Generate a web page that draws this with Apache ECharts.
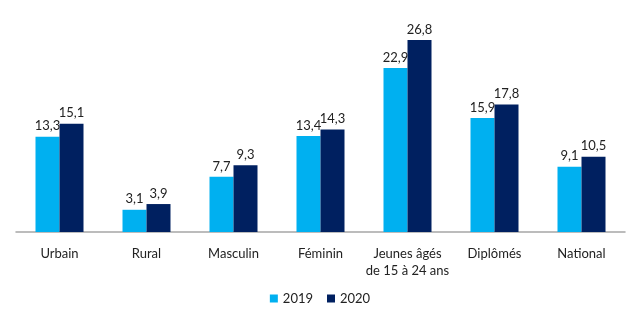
<!DOCTYPE html>
<html>
<head>
<meta charset="utf-8">
<style>
  html, body { margin: 0; padding: 0; background: #fff; }
  #chart { width: 640px; height: 324px; }
</style>
<script src="https://cdn.jsdelivr.net/npm/echarts@6/dist/echarts.min.js"></script>
</head>
<body>
<div id="chart"></div>
<script>
// Categories and yearly rates
const categories = ['Urbain', 'Rural', 'Masculin', 'Féminin', 'Jeunes âgés\nde 15 à 24 ans', 'Diplômés', 'National'];
const values2019 = [13.3, 3.1, 7.7, 13.4, 22.9, 15.9, 9.1];
const values2020 = [15.1, 3.9, 9.3, 14.3, 26.8, 17.8, 10.5];
const seriesNames = ['2019', '2020'];

const FONT = 'Lato, "Open Sans", sans-serif';
const fmt = v => String(v.value).replace('.', ',');

const chart = echarts.init(document.getElementById('chart'), null, { renderer: 'canvas' });

function barSeries(name, data, color) {
  return {
    name: name,
    type: 'bar',
    data: data,
    barWidth: 24,
    barGap: '0%',
    itemStyle: { color: color },
    label: {
      show: true,
      position: 'top',
      distance: 4,
      formatter: fmt,
      color: '#222',
      fontSize: 13,
      fontFamily: FONT
    }
  };
}

chart.setOption({
  animation: false,
  grid: { left: 16, right: 15, top: 17, bottom: 92 },
  legend: {
    bottom: 14,
    left: 'center',
    icon: 'rect',
    itemWidth: 8,
    itemHeight: 8,
    itemGap: 14,
    textStyle: { fontSize: 13, color: '#222', fontFamily: FONT },
    data: seriesNames
  },
  xAxis: {
    type: 'category',
    data: categories,
    axisLine: { lineStyle: { color: '#a6a6a6', width: 1.5 } },
    axisTick: { show: false },
    axisLabel: {
      interval: 0,
      margin: 13,
      color: '#222',
      fontSize: 13,
      lineHeight: 17,
      fontFamily: FONT
    }
  },
  yAxis: {
    type: 'value',
    min: 0,
    max: 30,
    show: false,
    splitLine: { show: false }
  },
  series: [
    barSeries(seriesNames[0], values2019, '#00b0f0'),
    barSeries(seriesNames[1], values2020, '#002060')
  ]
});
</script>
</body>
</html>
